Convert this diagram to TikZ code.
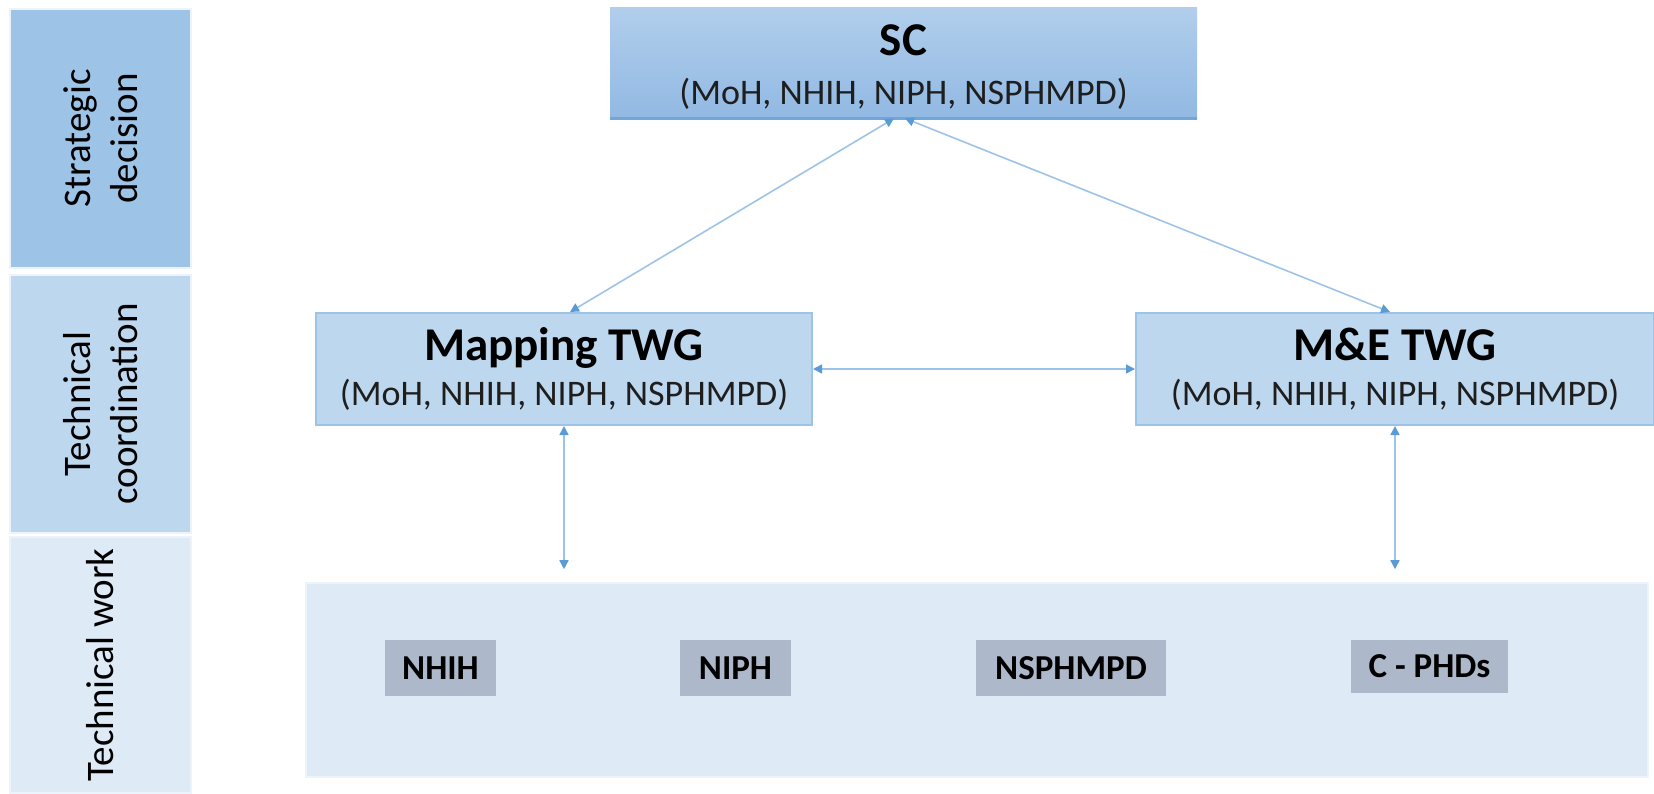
\documentclass[tikz,border=0pt]{standalone}
\usepackage{fontspec}
\setmainfont{Carlito}
\usetikzlibrary{arrows.meta,calc}
\definecolor{stratcol}{HTML}{9DC3E6}
\definecolor{coordcol}{HTML}{BDD7EE}
\definecolor{workcol}{HTML}{DEEAF6}
\definecolor{bandedge}{HTML}{EDF3FA}
\definecolor{boxgray}{HTML}{ADB9CA}
\definecolor{sctop}{HTML}{B1CEEC}
\definecolor{scbot}{HTML}{92B9E3}
\definecolor{scline}{HTML}{6FA6DC}
\definecolor{twgedge}{HTML}{9DC3E6}
\definecolor{linecol}{HTML}{9DC3E6}
\definecolor{tipcol}{HTML}{5B9BD5}
\definecolor{subtext}{HTML}{1E1E1E}
\begin{document}
\begin{tikzpicture}[x=0.5pt,y=-0.5pt,
  band/.style={rectangle, draw=bandedge, line width=0.8pt, inner sep=0pt, rotate=90,
    align=center, font=\fontsize{19.5}{23.5}\selectfont},
  twg/.style={rectangle, fill=coordcol, draw=twgedge, line width=1pt, inner sep=0pt,
    align=center, font=\fontsize{18}{22.5}\selectfont},
  unit/.style={rectangle, fill=boxgray, inner sep=0pt, font=\fontsize{17.5}{20}\selectfont\bfseries},
  arr/.style={draw=linecol, line width=0.8pt,
    {Triangle[length=4.5pt,width=4.5pt,color=tipcol]}-{Triangle[length=4.5pt,width=4.5pt,color=tipcol]}}
]
\useasboundingbox (0,0) rectangle (1654,793);

% left bands
\node[band, fill=stratcol, minimum width=129.5pt, minimum height=90.5pt] (strat) at (100.5,138.5) {Strategic\\decision};
\node[band, fill=coordcol, minimum width=129pt, minimum height=90.5pt] (coord) at (100.5,404) {Technical\\coordination};
\node[band, fill=workcol, minimum width=128pt, minimum height=90.5pt] (work) at (100.5,665) {Technical work};

% bottom panel
\node[rectangle, fill=workcol, draw=bandedge, line width=0.8pt, minimum width=671pt, minimum height=97pt, inner sep=0pt] (panel) at (977,680) {};

% SC
\node[rectangle, top color=sctop, bottom color=scbot, draw=none, minimum width=293.5pt, minimum height=55.5pt,
  inner sep=0pt] (sc) at (903.5,62.5) {};
\node[align=center, inner sep=0pt, font=\fontsize{18}{24.5}\selectfont] (sclabel) at (903.5,67)
  {{\bfseries\fontsize{23.5}{24.5}\selectfont SC}\\\color{subtext}(MoH, NHIH, NIPH, NSPHMPD)};
\draw[scline, line width=1.2pt] (sc.south west) -- (sc.south east);

% TWGs
\node[twg, minimum width=248pt, minimum height=56pt] (map) at (564,369)
  {{\bfseries\fontsize{23.5}{22.5}\selectfont Mapping TWG}\\\color{subtext}(MoH, NHIH, NIPH, NSPHMPD)};
\node[twg, minimum width=259pt, minimum height=56pt] (me) at (1395,369)
  {{\bfseries\fontsize{23.5}{22.5}\selectfont M\&E TWG}\\\color{subtext}(MoH, NHIH, NIPH, NSPHMPD)};

% units
\node[unit, minimum width=55.5pt, minimum height=28pt] (nhih) at (440.5,668) {NHIH};
\node[unit, minimum width=55.5pt, minimum height=28pt] (niph) at (735.5,668) {NIPH};
\node[unit, minimum width=95pt, minimum height=28pt] (nsph) at (1071,668) {NSPHMPD};
\node[unit, minimum width=78.5pt, minimum height=26.5pt] (cphd) at (1429.5,666.5) {C - PHDs};

% connector end points
\coordinate (mapend) at ([yshift=6.5pt]panel.north -| map.south);
\coordinate (meend) at ([yshift=6.5pt]panel.north -| me.south);

% connectors
\draw[arr] ([xshift=-4.75pt]sc.south) -- ([xshift=3pt]map.north);
\draw[arr] ([xshift=0.75pt]sc.south) -- ([xshift=-2.5pt]me.north);
\draw[arr] (map.east) -- (me.west);
\draw[arr] (map.south) -- (mapend);
\draw[arr] (me.south) -- (meend);
\end{tikzpicture}
\end{document}
